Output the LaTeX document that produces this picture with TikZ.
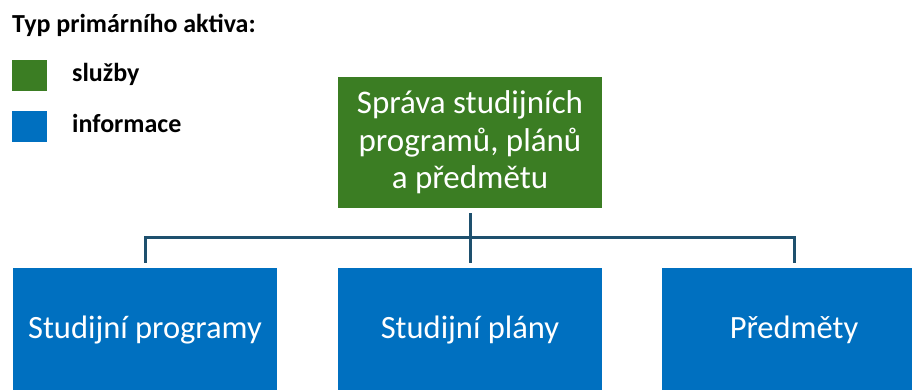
\documentclass[tikz,border=0pt]{standalone}
\usepackage{fontspec}
\setmainfont{Carlito}
\usetikzlibrary{positioning}

\definecolor{sluzby}{RGB}{59,125,35}
\definecolor{info}{RGB}{0,112,192}
\definecolor{linka}{RGB}{30,80,110}

\def\boxw{264pt}
\def\gap{5pt}

\begin{document}
\begin{tikzpicture}[x=1pt,y=1pt,
    assetbox/.style={minimum width=\boxw, inner sep=0pt, text=white},
    leaf/.style={assetbox, fill=info, minimum height=124pt,
      font=\fontsize{32.5}{38}\selectfont},
    root/.style={assetbox, fill=sluzby, minimum height=131pt, align=center,
      font=\fontsize{33}{37.5}\selectfont},
    swatch/.style={minimum width=35pt, minimum height=31pt, inner sep=0pt},
    legtext/.style={anchor=base west, inner sep=0pt,
      font=\fontsize{26}{30}\selectfont\bfseries},
    conn/.style={draw=linka, line width=3pt}
    ]
    \clip (0,0) rectangle (912,390);

    % legend
    \node[legtext] (legtitle) at (12,357) {Typ primárního aktiva:};
    \node[swatch, fill=sluzby] (swgreen) at (29.5,314.5) {};
    \node[swatch, fill=info] (swblue) at (29.5,263) {};
    \node[legtext] (legsluzby) at (72,308) {služby};
    \node[legtext] (leginfo) at (72,257) {informace};

    % primary asset
    \node[root] (sprava) at (470,247.5)
      {Správa studijních\\programů, plánů\\a předmětu};

    % information assets
    \node[leaf] (programy) at (145,60) {Studijní programy};
    \node[leaf] (plany) at (470,60) {Studijní plány};
    \node[leaf] (predmety) at (794,60) {Předměty};

    % bus
    \coordinate (bus) at (470,152);
    \draw[conn, shorten <=\gap, shorten >=\gap] (sprava.south) -- (plany.north);
    \draw[conn, shorten <=\gap, shorten >=\gap]
      (programy.north) |- (bus) -| (predmety.north);
  \end{tikzpicture}
\end{document}
